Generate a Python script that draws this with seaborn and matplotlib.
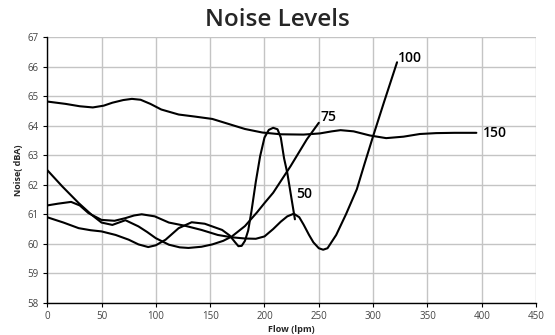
import numpy as np
import pandas as pd
import seaborn as sns
import matplotlib.pyplot as plt

# ---------- data ----------
flow_150 = [0, 17, 30, 42, 52, 60, 70, 78, 86, 95, 105, 121, 136, 152, 167, 182,
            198, 215, 236, 251, 262, 270, 282, 297, 312, 328, 343, 358, 375, 395]
noise_150 = [64.82, 64.74, 64.66, 64.62, 64.68, 64.78, 64.87, 64.91, 64.88, 64.74,
             64.55, 64.38, 64.31, 64.23, 64.06, 63.89, 63.77, 63.71, 63.70, 63.74,
             63.81, 63.85, 63.81, 63.67, 63.58, 63.63, 63.72, 63.75, 63.76, 63.76]

flow_100 = [0, 10, 22, 30, 38, 50, 62, 72, 80, 87, 99, 112, 127, 142, 157, 170,
            182, 192, 200, 208, 215, 221, 227, 232, 236, 241, 245, 250, 254, 258,
            266, 275, 285, 292, 300, 310, 322]
noise_100 = [61.3, 61.36, 61.42, 61.3, 61.04, 60.81, 60.78, 60.87, 60.96, 61.0,
             60.93, 60.72, 60.61, 60.47, 60.3, 60.22, 60.18, 60.17, 60.25, 60.5,
             60.75, 60.93, 61.02, 60.9, 60.65, 60.3, 60.05, 59.85, 59.8, 59.85,
             60.3, 61.0, 61.85, 62.7, 63.65, 64.8, 66.15]

flow_75 = [0, 14, 29, 41, 50, 60, 66, 72, 84, 92, 100, 112, 122, 130, 142, 152,
           162, 170, 182, 193, 200, 208, 224, 239, 250]
noise_75 = [62.5, 61.94, 61.38, 60.98, 60.72, 60.64, 60.72, 60.8, 60.59, 60.4,
            60.19, 59.97, 59.88, 59.86, 59.9, 59.98, 60.1, 60.25, 60.6, 61.06,
            61.38, 61.73, 62.63, 63.54, 64.1]

flow_50 = [0, 15, 29, 40, 50, 63, 75, 84, 93, 100, 109, 121, 133, 145, 161, 168,
           173, 176, 179, 182, 185, 188, 192, 196, 200, 204, 208, 212, 215, 218,
           221, 225, 228]
noise_50 = [60.9, 60.72, 60.53, 60.46, 60.42, 60.3, 60.14, 59.98, 59.89, 59.95,
            60.14, 60.53, 60.73, 60.68, 60.47, 60.28, 60.05, 59.92, 59.93, 60.1,
            60.45, 61.1, 62.1, 62.97, 63.6, 63.86, 63.93, 63.88, 63.6, 62.9,
            62.4, 61.5, 60.83]

series = [
    ("150", flow_150, noise_150, (401, 63.75)),
    ("100", flow_100, noise_100, (323, 66.3)),
    ("75", flow_75, noise_75, (252, 64.3)),
    ("50", flow_50, noise_50, (229, 61.7)),
]

sns.set_style("white")
plt.rcParams['font.family'] = ['Open Sans', 'DejaVu Sans']

fig, ax = plt.subplots(figsize=(5.55, 3.35), dpi=100)
fig.subplots_adjust(left=0.085, right=0.966, top=0.889, bottom=0.096)

for name, fx, ny, (lx, ly) in series:
    df = pd.DataFrame({"Flow": fx, "Noise": ny})
    sns.lineplot(data=df, x="Flow", y="Noise", ax=ax, color="black",
                 linewidth=1.5, sort=False, estimator=None)
    ax.text(lx, ly, name, fontsize=10, fontweight='semibold',
            ha='left', va='center', color='black')

ax.set_xlim(0, 450)
ax.set_ylim(58, 67)
ax.set_xticks(np.arange(0, 451, 50))
ax.set_yticks(np.arange(58, 68, 1))
ax.grid(True, color='#c4c4c4', linewidth=1)
ax.set_axisbelow(True)

for s in ['top', 'right']:
    ax.spines[s].set_visible(False)
for s in ['left', 'bottom']:
    ax.spines[s].set_color('black')
    ax.spines[s].set_linewidth(1)

ax.tick_params(axis='both', labelsize=7, labelcolor='#444444', length=3,
               width=0.8, color='black', pad=3, left=True, bottom=True)

ax.set_xlabel("Flow (lpm)", fontsize=6.5, fontweight='bold', labelpad=2)
ax.set_ylabel("Noise( dBA)", fontsize=6.5, fontweight='bold', labelpad=3)
fig.suptitle("Noise Levels", fontsize=17.5, fontweight='semibold',
             x=0.5, y=0.94, va='center')

plt.savefig("out.png", dpi=100)
